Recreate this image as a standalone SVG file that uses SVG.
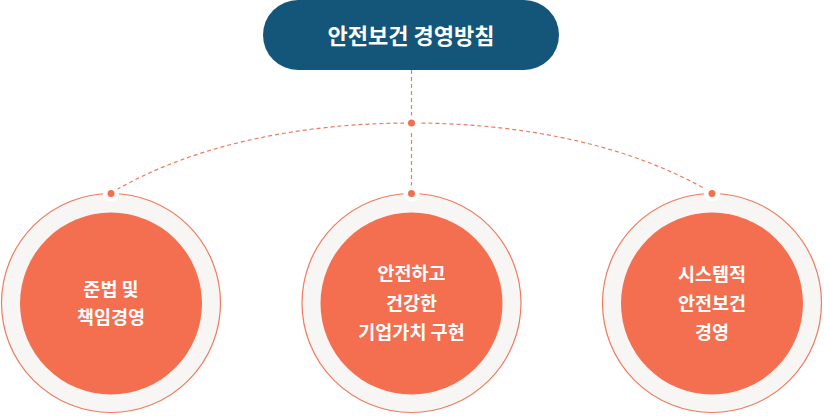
<svg xmlns="http://www.w3.org/2000/svg" width="824" height="416" viewBox="0 0 824 416">
  <defs>
    <style>
      .title { font-family: "Noto Sans CJK KR", "Noto Sans", sans-serif; font-weight: 700; font-size: 22px; fill: #ffffff; text-anchor: middle; dominant-baseline: central; }
      .label { font-family: "Noto Sans CJK KR", "Noto Sans", sans-serif; font-weight: 700; font-size: 18.5px; fill: #ffffff; text-anchor: middle; dominant-baseline: central; }
      .ring { fill: #f8f6f4; stroke: #f07a5e; stroke-width: 1.2; }
      .core { fill: #f36f50; }
      .dash { fill: none; stroke: #f07a5e; stroke-width: 1.2; stroke-dasharray: 4 3; }
      .halo { fill: #ffffff; }
      .dot { fill: #f36f50; }
    </style>
  </defs>

  <g id="connectors">
    <path class="dash" d="M411.5,70 L411.5,190"/>
    <path class="dash" d="M111,193 C191,145 301,123 411.5,123 C522,123 632,145 712,193"/>
  </g>

  <g id="top">
    <rect x="263" y="0" width="296" height="70" rx="35" ry="35" fill="#14557a"/>
    <text class="title" x="411" y="34">안전보건 경영방침</text>
  </g>

  <g id="node-left">
    <circle class="ring" cx="111" cy="303" r="109.5"/>
    <circle class="core" cx="111" cy="303.5" r="91"/>
    <text class="label" x="111" y="288">준법 및</text>
    <text class="label" x="111" y="316">책임경영</text>
  </g>

  <g id="node-middle">
    <circle class="ring" cx="411.5" cy="303" r="109.5"/>
    <circle class="core" cx="411.5" cy="303.5" r="91"/>
    <text class="label" x="411.5" y="272">안전하고</text>
    <text class="label" x="411.5" y="302">건강한</text>
    <text class="label" x="411.5" y="331">기업가치 구현</text>
  </g>

  <g id="node-right">
    <circle class="ring" cx="712" cy="303" r="109.5"/>
    <circle class="core" cx="712" cy="303.5" r="91"/>
    <text class="label" x="712" y="273">시스템적</text>
    <text class="label" x="712" y="302">안전보건</text>
    <text class="label" x="712" y="331">경영</text>
  </g>

  <g id="dots">
    <circle class="halo" cx="411.5" cy="123" r="7.5"/>
    <circle class="dot" cx="411.5" cy="123" r="3.5"/>
    <circle class="halo" cx="111" cy="193.5" r="8"/>
    <circle class="dot" cx="111" cy="193.5" r="3.5"/>
    <circle class="halo" cx="411.5" cy="193.5" r="8"/>
    <circle class="dot" cx="411.5" cy="193.5" r="3.5"/>
    <circle class="halo" cx="712" cy="193.5" r="8"/>
    <circle class="dot" cx="712" cy="193.5" r="3.5"/>
  </g>
</svg>
